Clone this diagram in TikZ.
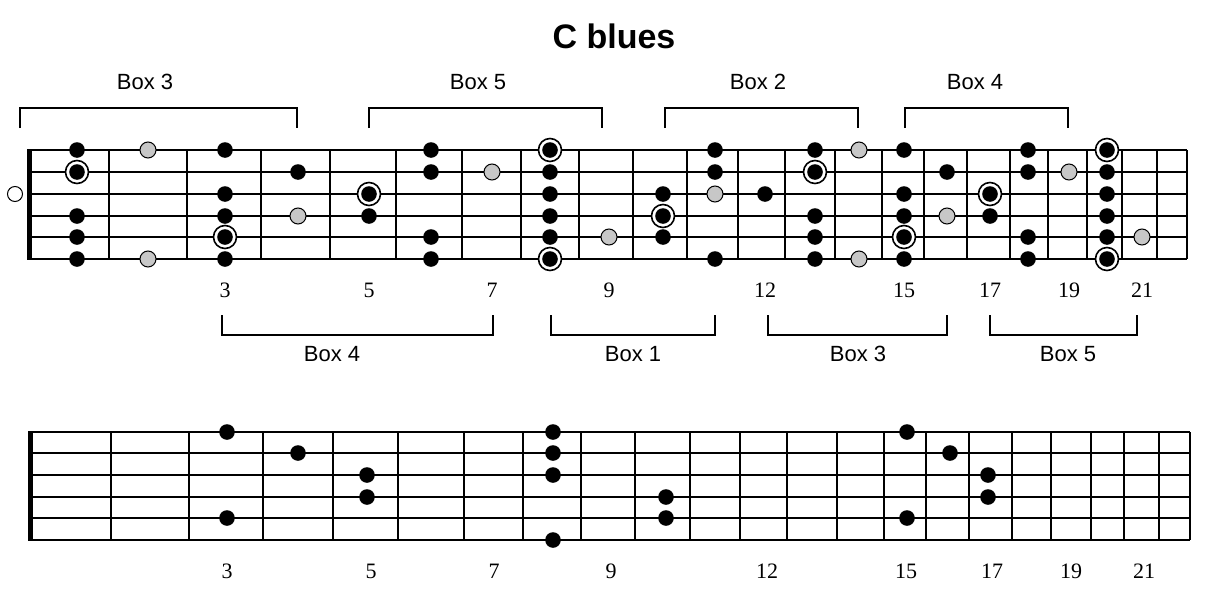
\documentclass[tikz,border=0pt]{standalone}
\usepackage{fontspec}
\setmainfont{Liberation Serif}
\newfontfamily\boxfont{Liberation Sans}
\usepackage{tikz}
\usetikzlibrary{positioning}

\tikzset{
    blackdot/.style={circle, fill=black, inner sep=0pt, minimum size=7.8pt},
    rootring/.style={circle, draw, line width=0.8pt, fill=white, inner sep=0pt, minimum size=11.5pt},
    bluedot/.style={circle, draw, line width=0.5pt, fill=black!22, inner sep=0pt, minimum size=8pt},
    opendot/.style={circle, draw, line width=0.5pt, fill=white, inner sep=0pt, minimum size=7.5pt},
    boxlabel/.style={font=\boxfont\fontsize{11}{13}\selectfont},
    fretnum/.style={font=\fontsize{11}{13}\selectfont},
    bracket/.style={line width=0.7pt}
}

\begin{document}
\begin{tikzpicture}[x=0.5pt, y=-0.5pt]
    \useasboundingbox (0,0) rectangle (1207,595);

    \node[font=\boxfont\bfseries\fontsize{17}{20}\selectfont] (title) at (614,36) {C blues};

    % upper neck
    \foreach \y/\w in {150/0.9, 172/0.7, 194/1.4, 216/1.4, 237/0.7, 259/0.9}
        \draw[line width=\w pt] (29,\y) -- (1187,\y);
    \foreach \x in {109,187,261,330,396,462,521,579,633,687,738,785,835,882,924,967,1010,1048,1087,1122,1157,1187}
        \draw[line width=1pt] (\x,150) -- (\x,259);
    \fill (27,149) rectangle (32,260);

    % lower neck
    \foreach \y/\w in {432/1.4, 453/0.7, 475/0.7, 497/1.4, 518/0.7, 540/1.4}
        \draw[line width=\w pt] (31,\y) -- (1190,\y);
    \foreach \x in {111,189,263,333,398,464,523,581,635,690,740,787,837,884,926,969,1012,1051,1091,1124,1159,1190}
        \draw[line width=1pt] (\x,432) -- (\x,540);
    \fill (28,431) rectangle (33,541);

    % fret numbers
    \foreach \x/\n in {225/3, 369/5, 492/7, 609/9, 765/12, 904/15, 990/17, 1069/19, 1142/21} {
        \node[fretnum] (u\n) at (\x,290) {\n};
        \node[fretnum] (l\n) at (\x+2,571) {\n};
    }

    % upper neck: scale notes
    \node[opendot] (open) at (15,194) {};
    \foreach \x/\y in {77/150, 77/216, 77/237, 77/259, 225/150, 225/194, 225/216, 225/259,
        298/172, 369/216, 431/150, 431/172, 431/237, 431/259, 550/172, 550/194, 550/216, 550/237,
        663/194, 663/237, 715/150, 715/172, 715/259, 765/194, 815/150, 815/216, 815/237, 815/259,
        904/150, 904/194, 904/216, 904/259, 947/172, 990/216, 1028/150, 1028/172, 1028/237, 1028/259,
        1107/172, 1107/194, 1107/216, 1107/237}
        \node[blackdot] (n-\x-\y) at (\x,\y) {};
    \foreach \x/\y in {77/172, 225/237, 369/194, 550/150, 550/259, 663/216, 815/172, 904/237, 990/194, 1107/150, 1107/259} {
        \node[rootring] (r-\x-\y) at (\x,\y) {};
        \node[blackdot] (n-\x-\y) at (\x,\y) {};
    }
    \foreach \x/\y in {148/150, 148/259, 298/216, 492/172, 609/237, 715/194, 859/150, 859/259, 947/216, 1069/172, 1142/237}
        \node[bluedot] (b-\x-\y) at (\x,\y) {};

    % lower neck: one octave shape
    \foreach \x/\y in {227/432, 227/518, 298/453, 367/475, 367/497, 553/432, 553/453, 553/475, 553/540,
        666/497, 666/518, 907/432, 907/518, 950/453, 988/475, 988/497}
        \node[blackdot] (m-\x-\y) at (\x,\y) {};

    % boxes above
    \foreach \a/\b/\c/\t in {20/297/145/3, 369/602/478/5, 665/858/758/2, 905/1068/975/4} {
        \draw[bracket] (\a,128) -- (\a,108) -- (\b,108) -- (\b,128);
        \node[boxlabel] (top\t) at (\c,82) {Box \t};
    }
    % boxes below
    \foreach \a/\b/\c/\t in {222/493/332/4, 551/715/633/1, 768/947/858/3, 990/1137/1068/5} {
        \draw[bracket] (\a,315) -- (\a,335) -- (\b,335) -- (\b,315);
        \node[boxlabel] (bot\t) at (\c,354) {Box \t};
    }
\end{tikzpicture}
\end{document}
